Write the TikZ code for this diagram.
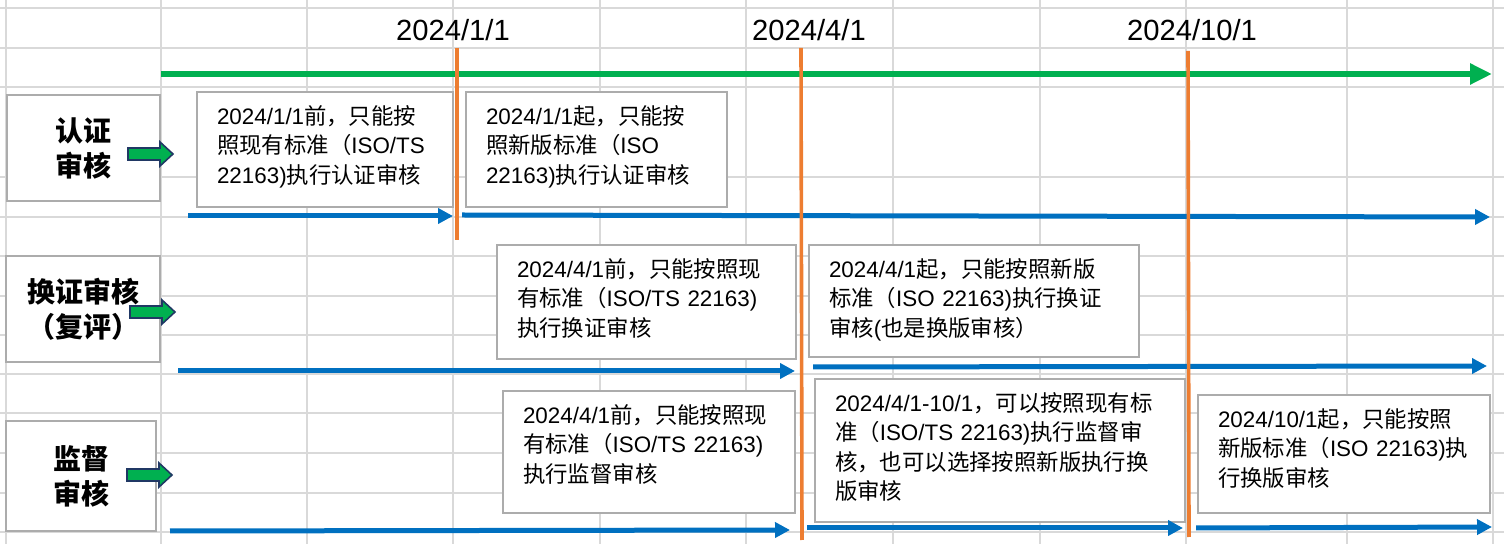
\documentclass[tikz,border=0pt]{standalone}
\usepackage{fontspec}
\setmainfont{Noto Sans CJK SC}
\newfontfamily\latinfont{Liberation Sans}
\newcommand{\ltn}[1]{{\latinfont #1}}
\usetikzlibrary{arrows.meta}

\definecolor{gridgray}{RGB}{217,217,217}
\definecolor{boxgray}{RGB}{172,172,172}
\definecolor{tlgreen}{RGB}{0,176,80}
\definecolor{tlblue}{RGB}{0,112,192}
\definecolor{cutorange}{RGB}{237,125,49}
\definecolor{navy}{RGB}{32,56,100}

\begin{document}
\begin{tikzpicture}[x=0.5pt,y=-0.5pt,
    gridline/.style={draw=gridgray,line width=0.75pt},
    stage/.style={draw=boxgray,line width=1.2pt,fill=white,anchor=north west,
                  align=center,inner sep=0pt,
                  font=\bfseries\fontsize{14}{17.5}\selectfont},
    note/.style={draw=boxgray,line width=1pt,fill=white,anchor=north west,
                 align=left,inner xsep=10pt,inner ysep=0pt,text height=16.4pt,
                 font=\fontsize{11.2}{14.6}\selectfont},
    date/.style={font=\latinfont\fontsize{14.6}{17}\selectfont},
    timeline/.style={draw=tlgreen,line width=3.2pt,-{Triangle[length=11pt,width=10pt]}},
    period/.style={draw=tlblue,line width=2.5pt,-{Triangle[length=7.5pt,width=7.5pt]}},
    cut/.style={draw=cutorange,line width=1.8pt},
    pointer/.style={draw=navy,fill=tlgreen,line width=0.8pt,line join=miter}]

  \useasboundingbox (0,0) rectangle (1504,544);

  % spreadsheet grid behind everything
  \foreach \gx in {6,161,307,453,600,746,893,1040,1186,1347,1493}
    \draw[gridline] (\gx,0) -- (\gx,544);
  \foreach \gy in {8,48,87,177,217,256,296,335,374,413,453,493,532}
    \draw[gridline] (0,\gy) -- (1504,\gy);

  % dates
  \node[date] (D1) at (453,30)  {2024/1/1};
  \node[date] (D2) at (809,30)  {2024/4/1};
  \node[date] (D3) at (1192,30) {2024/10/1};

  % audit types
  \node[stage,minimum width=76.5pt,minimum height=53pt] (A) at (6,94)  {认证\\审核};
  \node[stage,minimum width=77pt,minimum height=53pt]   (B) at (5,255) {换证审核\\（复评）};
  \node[stage,minimum width=75pt,minimum height=55pt]   (C) at (5,420) {监督\\审核};

  % rules per period
  \node[note,text width=108pt,text depth=41.1pt] (A1) at (196,91)
    {\ltn{2024/1/1}前，只能按\\照现有标准（\ltn{ISO/TS}\\\ltn{22163)}执行认证审核};
  \node[note,text width=110.5pt,text depth=41.1pt] (A2) at (465,91)
    {\ltn{2024/1/1}起，只能按\\照新版标准（\ltn{ISO}\\\ltn{22163)}执行认证审核};
  \node[note,text width=129.5pt,text depth=40.6pt] (B1) at (496,244)
    {\ltn{2024/4/1}前，只能按照现\\有标准（\ltn{ISO/TS~22163)}\\执行换证审核};
  \node[note,text width=145pt,text depth=39.6pt] (B2) at (808,244)
    {\ltn{2024/4/1}起，只能按照新版\\标准（\ltn{ISO~22163)}执行换证\\审核\ltn{(}也是换版审核）};
  \node[note,text width=126pt,text depth=44.6pt] (C1) at (502,390)
    {\ltn{2024/4/1}前，只能按照现\\有标准（\ltn{ISO/TS~22163)}\\执行监督审核};
  \node[note,text width=165pt,text depth=55.1pt] (C2) at (814,378)
    {\ltn{2024/4/1-10/1}，可以按照现有标\\准（\ltn{ISO/TS~22163)}执行监督审\\核，也可以选择按照新版执行换\\版审核};
  \node[note,text width=126pt,text depth=42.6pt] (C3) at (1197,394)
    {\ltn{2024/10/1}起，只能按照\\新版标准（\ltn{ISO~22163)}执\\行换版审核};

  % green pointers
  \draw[pointer,shift={(128,154)}] (0,-6) -- (32,-6) -- (32,-12) -- (45,0)
    -- (32,12) -- (32,6) -- (0,6) -- cycle;
  \draw[pointer,shift={(130,312)}] (0,-6) -- (32,-6) -- (32,-12) -- (45,0)
    -- (32,12) -- (32,6) -- (0,6) -- cycle;
  \draw[pointer,shift={(127,475)}] (0,-6) -- (32,-6) -- (32,-12) -- (45,0)
    -- (32,12) -- (32,6) -- (0,6) -- cycle;

  % time axis
  \coordinate (t0) at (161,74);
  \coordinate (t1) at (1492,74);
  \draw[timeline] (t0) -- (t1);

  % period arrows
  \coordinate (a0) at (188,216);  \coordinate (a1) at (453,216);
  \coordinate (a2) at (462,215);  \coordinate (a3) at (1490,217);
  \coordinate (b0) at (178,371);  \coordinate (b1) at (795,371);
  \coordinate (b2) at (813,367);  \coordinate (b3) at (1487,366);
  \coordinate (c0) at (170,531);  \coordinate (c1) at (790,530);
  \coordinate (c2) at (807,528);  \coordinate (c3) at (1183,528);
  \coordinate (c4) at (1196,528); \coordinate (c5) at (1492,527);
  \draw[period] (a0) -- (a1);
  \draw[period] (a2) -- (a3);
  \draw[period] (b0) -- (b1);
  \draw[period] (b2) -- (b3);
  \draw[period] (c0) -- (c1);
  \draw[period] (c2) -- (c3);
  \draw[period] (c4) -- (c5);

  % cut-over dates
  \coordinate (k1) at (457,48);  \coordinate (k1e) at (457,240);
  \coordinate (k2) at (801,48);  \coordinate (k2e) at (802,540);
  \coordinate (k3) at (1188,51); \coordinate (k3e) at (1189,537);
  \draw[cut] (k1) -- (k1e);
  \draw[cut] (k2) -- (k2e);
  \draw[cut] (k3) -- (k3e);
\end{tikzpicture}
\end{document}
